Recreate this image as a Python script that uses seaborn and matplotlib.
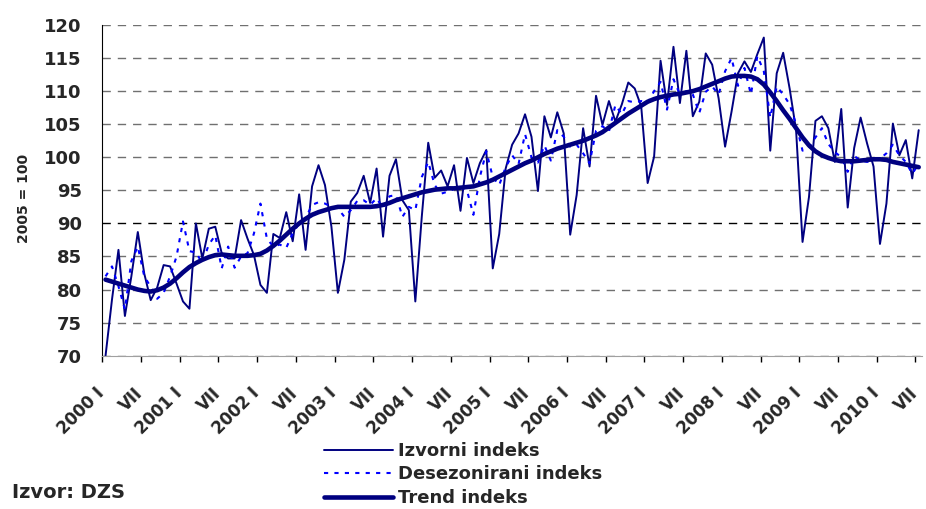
import numpy as np
import pandas as pd
import seaborn as sns
import matplotlib.pyplot as plt

# monthly indices, 2000 I .. 2010 VII (2005 = 100)
izvorni = [70.0, 78.5, 86.0, 76.0, 82.0, 88.7, 82.4, 78.4, 80.3, 83.7, 83.5, 80.9,
           78.2, 77.1, 90.0, 84.7, 89.2, 89.5, 85.5, 84.7, 84.7, 90.5, 87.7, 85.2,
           80.7, 79.5, 88.4, 87.8, 91.7, 87.3, 94.4, 86.0, 95.6, 98.8, 95.8, 89.5,
           79.5, 84.5, 93.3, 94.6, 97.2, 93.1, 98.3, 88.0, 97.2, 99.7, 93.5, 92.0,
           78.2, 91.0, 102.2, 96.9, 98.0, 95.6, 98.8, 91.9, 99.9, 96.1, 99.1, 101.1,
           83.2, 88.4, 98.3, 101.9, 103.6, 106.5, 103.1, 94.9, 106.2, 103.0, 106.8, 103.6,
           88.3, 94.3, 104.4, 98.6, 109.3, 104.9, 108.5, 105.4, 108.0, 111.3, 110.4, 107.7,
           96.1, 100.1, 114.6, 107.9, 116.7, 108.2, 116.1, 106.2, 108.4, 115.7, 114.0, 108.9,
           101.6, 106.9, 112.7, 114.5, 112.9, 115.6, 118.1, 101.0, 112.7, 115.8, 110.4, 104.1,
           87.2, 94.0, 105.5, 106.2, 104.4, 99.3, 107.3, 92.4, 101.4, 106.0, 102.1, 98.6,
           86.9, 93.0, 105.1, 100.3, 102.6, 96.8, 104.1]

desezonirani = [82.0, 83.5, 80.5, 77.0, 84.3, 86.5, 82.0, 80.4, 78.6, 79.5, 82.0, 85.0,
                90.3, 85.8, 85.6, 84.0, 86.8, 88.2, 83.2, 86.5, 83.3, 85.0, 85.5, 88.5,
                93.0, 87.7, 86.5, 86.8, 86.3, 88.5, 90.0, 90.8, 92.8, 93.2, 93.0, 92.5,
                92.3, 91.0, 92.0, 93.4, 93.5, 92.8, 93.8, 92.3, 94.1, 94.3, 91.0, 92.5,
                92.0, 97.0, 99.3, 95.8, 94.5, 94.8, 95.2, 95.6, 95.0, 91.3, 97.0, 100.9,
                97.0, 95.8, 98.5, 100.3, 99.0, 103.5, 100.0, 99.2, 101.8, 99.5, 104.1, 103.1,
                101.6, 101.9, 100.6, 99.1, 104.0, 104.7, 103.9, 107.9, 106.5, 108.5, 108.3, 108.5,
                108.2, 110.0, 111.4, 107.2, 111.8, 109.5, 110.0, 109.5, 106.7, 109.9, 110.7, 109.5,
                113.0, 115.0, 110.8, 113.5, 109.5, 115.3, 113.0, 106.0, 110.7, 109.5, 108.0, 105.0,
                101.0, 101.4, 103.0, 104.4, 102.0, 100.8, 100.0, 97.8, 100.2, 99.5, 99.3, 99.5,
                99.8, 100.6, 101.9, 100.3, 99.3, 97.5, 99.0]

trend = [81.5, 81.2, 80.9, 80.6, 80.3, 80.0, 79.8, 79.7, 79.9, 80.3, 80.9, 81.7,
         82.6, 83.4, 84.0, 84.5, 84.9, 85.2, 85.3, 85.2, 85.1, 85.1, 85.1, 85.2,
         85.4, 85.9, 86.6, 87.4, 88.3, 89.2, 90.0, 90.7, 91.3, 91.7, 92.0, 92.3,
         92.5, 92.5, 92.5, 92.5, 92.5, 92.5, 92.6, 92.8, 93.1, 93.5, 93.8, 94.1,
         94.4, 94.7, 94.9, 95.1, 95.2, 95.3, 95.3, 95.4, 95.5, 95.6, 95.9, 96.2,
         96.6, 97.1, 97.6, 98.1, 98.6, 99.1, 99.5, 100.0, 100.5, 100.9, 101.3, 101.6,
         101.9, 102.2, 102.5, 102.9, 103.3, 103.8, 104.5, 105.2, 105.9, 106.6, 107.2, 107.8,
         108.4, 108.8, 109.1, 109.3, 109.5, 109.6, 109.8, 110.0, 110.3, 110.7, 111.1, 111.5,
         111.9, 112.2, 112.3, 112.3, 112.2, 111.8, 111.0, 109.8, 108.5, 107.1, 105.8, 104.4,
         103.0, 101.8, 100.9, 100.3, 99.9, 99.6, 99.4, 99.4, 99.4, 99.5, 99.6, 99.7,
         99.7, 99.6, 99.3, 99.1, 98.9, 98.7, 98.5]

years = list(range(2000, 2011))
tick_labels = []
for y in years:
    tick_labels += [f"{y} I", "VII"]

months = np.arange(len(izvorni))
df = pd.DataFrame({'mjesec': months, 'izvorni': izvorni,
                   'desezonirani': desezonirani, 'trend': trend})

sns.set_style('white')
plt.rcParams['font.family'] = ['DejaVu Sans']
plt.rcParams['font.weight'] = 'bold'

fig = plt.figure(figsize=(9.26, 5.09), dpi=100)
ax = fig.add_axes([0.1098, 0.3012, 0.8858, 0.6497])

sns.lineplot(data=df, x='mjesec', y='izvorni', ax=ax, color='#000080',
             linewidth=1.4, label='Izvorni indeks')
sns.lineplot(data=df, x='mjesec', y='desezonirani', ax=ax, color='#0000FF',
             linewidth=1.5, linestyle=(0, (2, 3)), label='Desezonirani indeks')
sns.lineplot(data=df, x='mjesec', y='trend', ax=ax, color='#000080',
             linewidth=3.3, label='Trend indeks')

ax.set_xlim(-0.5, len(months) - 0.5)
ax.set_ylim(70, 120)
ax.set_yticks(np.arange(70, 121, 5))
ax.tick_params(axis='y', which='major', direction='out', length=4.8, width=1,
               color='black', pad=9.5, labelsize=13)

# tick marks between categories, labels under the categories
ax.set_xticks(np.arange(-0.5, len(months), 6))
ax.set_xticklabels([])
ax.set_xticks(np.arange(0, len(months), 6) - 0.6, minor=True)
ax.set_xticklabels(tick_labels, minor=True, rotation=45, ha='right', va='center',
                   rotation_mode='anchor', fontsize=12, fontweight='bold')
ax.tick_params(axis='x', which='major', direction='out', length=4.5, width=1,
               color='black', bottom=True)
ax.tick_params(axis='x', which='minor', length=0, pad=25, bottom=True)

ax.yaxis.grid(True, linestyle=(0, (6, 5)), color='#707070', linewidth=1)
for val, gl in zip(ax.get_yticks(), ax.get_ygridlines()):
    if val == 90:
        gl.set_color('black')
ax.xaxis.grid(False)

for s in ['top', 'right']:
    ax.spines[s].set_visible(False)
ax.spines['left'].set_color('black')
ax.spines['bottom'].set_color('#a0a0a0')

ax.set_xlabel('')
ax.set_ylabel('2005 = 100', fontsize=10, fontweight='bold')
ax.yaxis.set_label_coords(-0.0856, 0.477)

ax.legend(loc='upper left', bbox_to_anchor=(324 / 926, 1 - 442 / 509),
          bbox_transform=fig.transFigure, frameon=False, borderpad=0,
          borderaxespad=0, handlelength=3.8, handletextpad=0.3,
          labelspacing=0.3, prop={'size': 13, 'weight': 'bold'})

fig.text(11.7 / 926, 1 - 493 / 509, 'Izvor: DZS', fontsize=14,
         fontweight='bold', va='center', ha='left')

fig.savefig('out.png', dpi=100)
